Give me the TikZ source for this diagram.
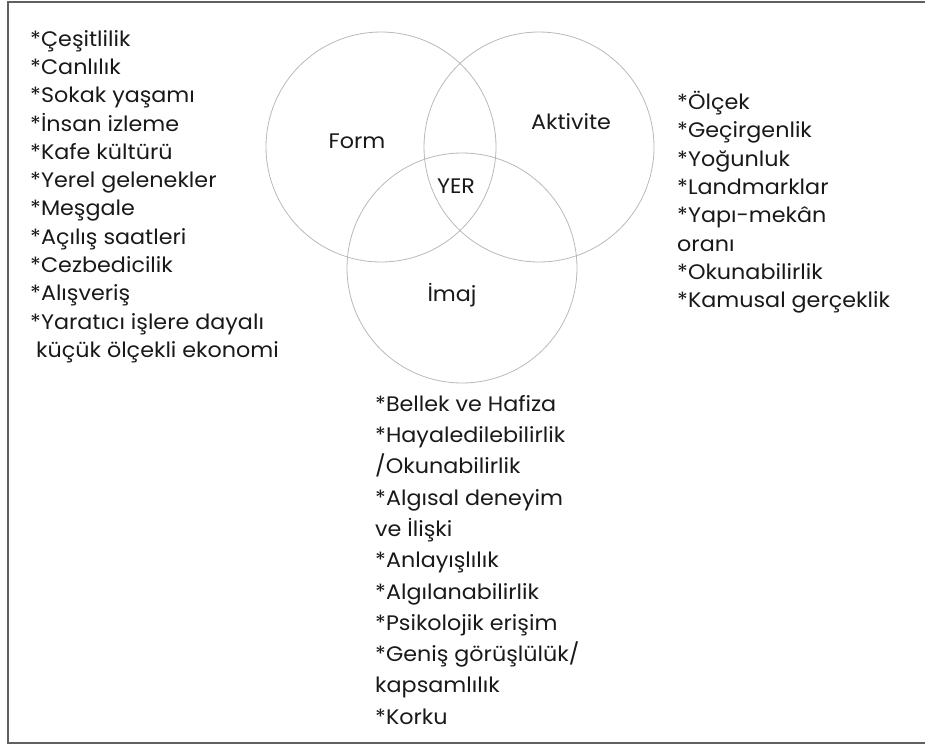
\documentclass[tikz,border=0pt]{standalone}
\usepackage{fontspec}
\setmainfont{Poppins}[FakeStretch=1.06]
\usetikzlibrary{shapes,positioning,calc}

\begin{document}
\begin{tikzpicture}[x=1pt, y=-1pt]
  \tikzstyle{halka}=[circle, draw=gray!55, line width=0.8pt, minimum size=230pt, inner sep=0pt]
  \tikzstyle{liste}=[anchor=north west, align=left, inner sep=0pt, text=black!90, font=\fontsize{21}{28.3}\selectfont]
  \tikzstyle{etiket}=[text=black!90, font=\fontsize{21}{25}\selectfont]

  \useasboundingbox (0,0) rectangle (925,747);
  \clip (0,0) rectangle (925,747);

  % Cerceve
  \draw[gray!75!black, line width=1.3pt] (8,2) rectangle (940,743);

  % Halkalar
  \node[halka] (form) at (381,147) {};
  \node[halka] (aktivite) at (539,147) {};
  \node[halka] (imaj) at (462,268) {};

  % Etiketler
  \node[etiket] (formlbl) at (357,141) {Form};
  \node[etiket] (aktlbl) at (571,122) {Aktivite};
  \node[etiket] (yer) at (456,186) {YER};
  \node[etiket] (imajlbl) at (452,295) {İmaj};

  % Listeler
  \node[liste] (sol) at (30,30) {*Çeşitlilik\\ *Canlılık\\ *Sokak yaşamı\\ *İnsan izleme\\ *Kafe kültürü\\ *Yerel gelenekler\\ *Meşgale\\ *Açılış saatleri\\ *Cezbedicilik\\ *Alışveriş\\ *Yaratıcı işlere dayalı\\ \ küçük ölçekli ekonomi};
  \node[liste] (sag) at (677,91) {*Ölçek\\ *Geçirgenlik\\ *Yoğunluk\\ *Landmarklar\\ *Yapı-mekân\\ oranı\\ *Okunabilirlik\\ *Kamusal gerçeklik};
  \node[liste, font=\fontsize{21}{31.3}\selectfont] (alt) at (375,395) {*Bellek ve Hafiza\\ *Hayaledilebilirlik\\ /Okunabilirlik\\ *Algısal deneyim\\ ve İlişki\\ *Anlayışlılık\\ *Algılanabilirlik\\ *Psikolojik erişim\\ *Geniş görüşlülük/\\ kapsamlılık\\ *Korku};
\end{tikzpicture}
\end{document}
